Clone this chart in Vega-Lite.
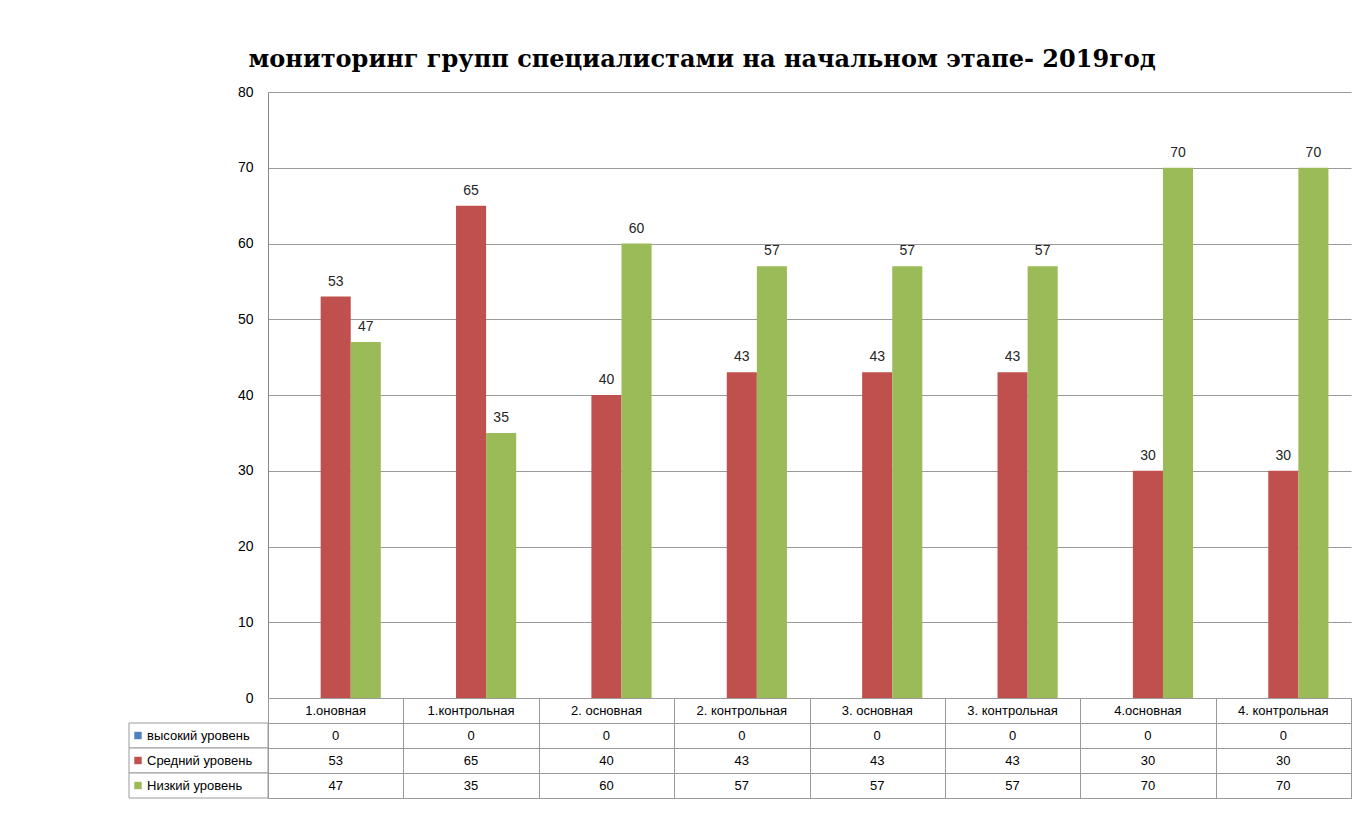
{
  "$schema": "https://vega.github.io/schema/vega-lite/v6.json",
  "background": "white",
  "padding": {"left": 128, "top": 48, "right": 5, "bottom": 5},
  "autosize": {"type": "pad"},
  "title": {"text": "мониторинг групп специалистами на начальном этапе- 2019год", "font": "DejaVu Serif", "fontSize": 24, "fontWeight": "bold", "color": "#000000", "anchor": "start", "dx": 120, "offset": 13},
  "datasets": {
    "d": [
      {"cat": "1.оновная", "series": "высокий уровень", "value": 0},
      {"cat": "1.оновная", "series": "Средний уровень", "value": 53},
      {"cat": "1.оновная", "series": "Низкий уровень", "value": 47},
      {"cat": "1.контрольная", "series": "высокий уровень", "value": 0},
      {"cat": "1.контрольная", "series": "Средний уровень", "value": 65},
      {"cat": "1.контрольная", "series": "Низкий уровень", "value": 35},
      {"cat": "2. основная", "series": "высокий уровень", "value": 0},
      {"cat": "2. основная", "series": "Средний уровень", "value": 40},
      {"cat": "2. основная", "series": "Низкий уровень", "value": 60},
      {"cat": "2. контрольная", "series": "высокий уровень", "value": 0},
      {"cat": "2. контрольная", "series": "Средний уровень", "value": 43},
      {"cat": "2. контрольная", "series": "Низкий уровень", "value": 57},
      {"cat": "3. основная", "series": "высокий уровень", "value": 0},
      {"cat": "3. основная", "series": "Средний уровень", "value": 43},
      {"cat": "3. основная", "series": "Низкий уровень", "value": 57},
      {"cat": "3. контрольная", "series": "высокий уровень", "value": 0},
      {"cat": "3. контрольная", "series": "Средний уровень", "value": 43},
      {"cat": "3. контрольная", "series": "Низкий уровень", "value": 57},
      {"cat": "4.основная", "series": "высокий уровень", "value": 0},
      {"cat": "4.основная", "series": "Средний уровень", "value": 30},
      {"cat": "4.основная", "series": "Низкий уровень", "value": 70},
      {"cat": "4. контрольная", "series": "высокий уровень", "value": 0},
      {"cat": "4. контрольная", "series": "Средний уровень", "value": 30},
      {"cat": "4. контрольная", "series": "Низкий уровень", "value": 70}
    ]
  },
  "columns": 2,
  "spacing": 0,
  "bounds": "flush",
  "resolve": {"scale": {"x": "independent", "y": "independent", "color": "shared", "xOffset": "independent"}},
  "concat": [
    {
      "width": 139, "height": 606,
      "view": {"stroke": null},
      "data": {"values": [{}]},
      "mark": {"type": "text"},
      "encoding": {"text": {"value": ""}}
    },
    {
      "width": 1083, "height": 606,
      "view": {"stroke": null},
      "data": {"name": "d"},
      "layer": [
        {
          "mark": {"type": "bar"},
          "encoding": {
            "x": {"field": "cat", "type": "nominal", "axis": null,
                  "scale": {"domain": ["1.оновная", "1.контрольная", "2. основная", "2. контрольная", "3. основная", "3. контрольная", "4.основная", "4. контрольная"], "paddingInner": 0.3333, "paddingOuter": 0.16667}},
            "xOffset": {"field": "series", "type": "nominal", "scale": {"domain": ["высокий уровень", "Средний уровень", "Низкий уровень"], "paddingInner": 0, "paddingOuter": 0}},
            "y": {"field": "value", "type": "quantitative",
                  "scale": {"domain": [0, 80]},
                  "axis": {"title": null, "values": [0, 10, 20, 30, 40, 50, 60, 70, 80], "ticks": false, "labelPadding": 15, "labelFontSize": 14, "labelColor": "#000000", "labelFont": "Liberation Sans", "domainColor": "#868686", "grid": true, "gridColor": "#9a9a9a"}},
            "color": {"field": "series", "type": "nominal", "legend": null,
                      "scale": {"domain": ["высокий уровень", "Средний уровень", "Низкий уровень"], "range": ["#4F81BD", "#C0504D", "#9BBB59"]}}
          }
        },
        {
          "transform": [{"filter": "datum.value > 0"}],
          "mark": {"type": "text", "baseline": "bottom", "dy": -8, "fontSize": 14, "color": "#262626", "font": "Liberation Sans"},
          "encoding": {
            "x": {"field": "cat", "type": "nominal"},
            "xOffset": {"field": "series", "type": "nominal"},
            "y": {"field": "value", "type": "quantitative"},
            "text": {"field": "value", "type": "quantitative"}
          }
        }
      ]
    },
    {
      "width": 139, "height": 100,
      "view": {"stroke": null},
      "data": {"name": "d"},
      "transform": [{"filter": "datum.cat == '1.оновная'"}],
      "layer": [
        {
          "mark": {"type": "rect", "fill": "white", "stroke": "#9a9a9a", "strokeWidth": 1},
          "encoding": {
            "y": {"field": "series", "type": "nominal", "axis": null,
                  "scale": {"domain": ["hdr", "высокий уровень", "Средний уровень", "Низкий уровень"], "paddingInner": 0, "paddingOuter": 0}}
          }
        },
        {
          "mark": {"type": "point", "shape": "square", "filled": true, "size": 55, "opacity": 1, "xOffset": 9},
          "encoding": {
            "x": {"datum": 0, "type": "quantitative", "scale": {"domain": [0, 139]}, "axis": null},
            "y": {"field": "series", "type": "nominal"},
            "color": {"field": "series", "type": "nominal", "legend": null}
          }
        },
        {
          "mark": {"type": "text", "align": "left", "dx": 18, "fontSize": 13, "color": "#000000", "font": "Liberation Sans"},
          "encoding": {
            "x": {"datum": 0, "type": "quantitative"},
            "y": {"field": "series", "type": "nominal"},
            "text": {"field": "series", "type": "nominal"}
          }
        }
      ]
    },
    {
      "width": 1083, "height": 100,
      "view": {"stroke": "#9a9a9a"},
      "data": {"name": "d"},
      "layer": [
        {
          "mark": {"type": "text", "fontSize": 13, "color": "#000000", "font": "Liberation Sans"},
          "encoding": {
            "x": {"field": "cat", "type": "nominal",
                  "scale": {"domain": ["1.оновная", "1.контрольная", "2. основная", "2. контрольная", "3. основная", "3. контрольная", "4.основная", "4. контрольная"], "paddingInner": 0, "paddingOuter": 0},
                  "axis": {"title": null, "labels": false, "ticks": false, "domain": false, "grid": true, "tickBand": "extent", "gridColor": "#9a9a9a"}},
            "y": {"field": "series", "type": "nominal",
                  "scale": {"domain": ["hdr", "высокий уровень", "Средний уровень", "Низкий уровень"], "paddingInner": 0, "paddingOuter": 0},
                  "axis": {"title": null, "labels": false, "ticks": false, "domain": false, "grid": true, "tickBand": "extent", "gridColor": "#9a9a9a"}},
            "text": {"field": "value", "type": "quantitative"}
          }
        },
        {
          "transform": [{"filter": "datum.series == 'высокий уровень'"}],
          "mark": {"type": "text", "fontSize": 13, "color": "#000000", "font": "Liberation Sans"},
          "encoding": {
            "x": {"field": "cat", "type": "nominal"},
            "y": {"datum": "hdr", "type": "nominal"},
            "text": {"field": "cat", "type": "nominal"}
          }
        }
      ]
    }
  ]
}
